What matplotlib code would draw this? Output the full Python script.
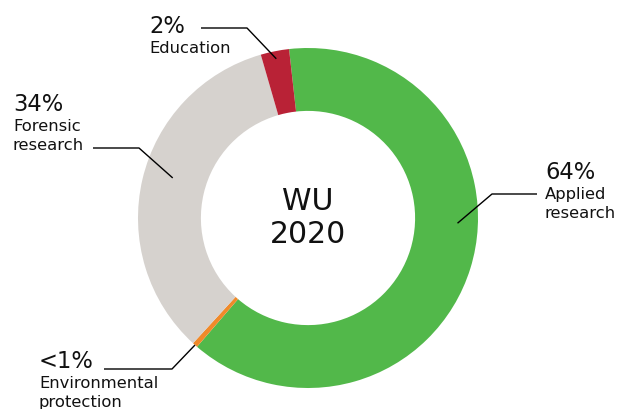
import matplotlib

matplotlib.use("Agg")
import matplotlib.pyplot as plt  # noqa: E402
import numpy as np  # noqa: E402

# shares, clockwise from the top
categories = [["Applied", "research"], ["Environmental", "protection"],
              ["Forensic", "research"], ["Education"]]
shares = [63.1, 0.5, 33.7, 2.7]
share_labels = ["64%", "<1%", "34%", "2%"]
colors = ["#52b84a", "#f08a2a", "#d6d2ce", "#b92236"]
center_text = "WU\n2020"

W, H = 632, 409
CX, CY, R = 308, 218, 170  # pixel centre and outer radius


def px(x, y):
    """Pixel position in the reference to data coordinates (radius 1 = R px)."""
    return (x - CX) / R, (CY - y) / R


# label layout in reference pixels: text left / baseline of the percentage,
# elbow and end of the leader line, anchor radius and angle inside the ring
layout = [
    {"x": 545, "base": 179, "elbow": (492, 194), "end": (537, 194), "anchor_r": 0.88, "anchor_a": -2.0},
    {"x": 39, "base": 368, "elbow": (172, 369), "end": (104, 369), "anchor_r": 1.0, "anchor_a": None},
    {"x": 13, "base": 111, "elbow": (139, 148), "end": (93, 148), "anchor_r": 0.83, "anchor_a": 163.5},
    {"x": 149, "base": 33, "elbow": (247, 28), "end": (201, 28), "anchor_r": 0.955, "anchor_a": None},
]

plt.rcParams["font.family"] = ["DejaVu Sans"]
fig = plt.figure(figsize=(W / 100, H / 100), dpi=100)
ax = fig.add_axes([0, 0, 1, 1])

wedges, _ = ax.pie(shares, colors=colors, startangle=96.4, counterclock=False,
                   radius=1.0, wedgeprops={"width": 0.37, "linewidth": 0})
ax.set_xlim(-CX / R, (W - CX) / R)
ax.set_ylim(-(H - CY) / R, CY / R)
ax.set_aspect("auto")
ax.axis("off")

ax.text(0, 0, center_text, ha="center", va="center", fontsize=21.5,
        color="#111111", linespacing=1.2)

for wedge, pct, lines, lay in zip(wedges, share_labels, categories, layout):
    ang = lay["anchor_a"]
    if ang is None:
        ang = (wedge.theta1 + wedge.theta2) / 2
    ax_x = lay["anchor_r"] * np.cos(np.radians(ang))
    ax_y = lay["anchor_r"] * np.sin(np.radians(ang))
    ex, ey = px(*lay["elbow"])
    hx, hy = px(*lay["end"])
    ax.plot([ax_x, ex, hx], [ax_y, ey, hy], color="black", linewidth=1.0,
            solid_capstyle="butt")
    tx, ty = px(lay["x"], lay["base"])
    ax.text(tx, ty, pct, ha="left", va="baseline", fontsize=16.3, color="#111111")
    for i, line in enumerate(lines):
        lx, ly = px(lay["x"], lay["base"] + 20 + 19.3 * i)
        ax.text(lx, ly, line, ha="left", va="baseline", fontsize=11.8, color="#111111")

fig.savefig("out.png", dpi=100)
